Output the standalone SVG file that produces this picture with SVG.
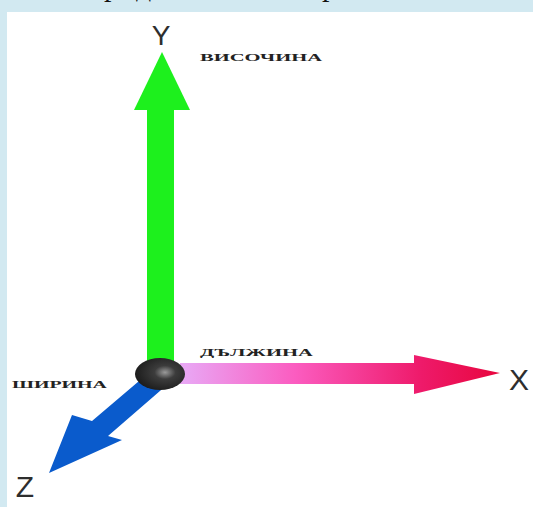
<svg xmlns="http://www.w3.org/2000/svg" width="533" height="507" viewBox="0 0 533 507">
<style>
.axis{font-family:"Liberation Sans",Arial,sans-serif;fill:#2e2e2e}
.lbl{font-family:"Liberation Serif","Times New Roman",serif;font-weight:bold;fill:#222;font-size:10px}
.top{font-family:"Liberation Serif","Times New Roman",serif;font-size:30px;fill:#111}
</style>
<defs>
<linearGradient id="gx" x1="185" y1="0" x2="500" y2="0" gradientUnits="userSpaceOnUse">
<stop offset="0" stop-color="#e9a6f4"/>
<stop offset="0.35" stop-color="#fb5cc0"/>
<stop offset="0.75" stop-color="#ee1a6a"/>
<stop offset="1" stop-color="#e8063e"/>
</linearGradient>
<radialGradient id="gb" cx="0.6" cy="0.45" r="0.6">
<stop offset="0" stop-color="#9a9a9a"/>
<stop offset="0.35" stop-color="#3c3c3c"/>
<stop offset="1" stop-color="#1c1c1c"/>
</radialGradient>
</defs>
<rect x="0" y="0" width="533" height="507" fill="#d2e9f1"/>
<rect x="7" y="12" width="526" height="495" fill="#ffffff"/>
<g id="title-fragment">
<text class="top" x="104" y="-4">р</text>
<text class="top" x="136" y="-4">д</text>
<text class="top" x="322" y="-4">р</text>
</g>
<g id="connectors">
<g id="axis-y">
<rect x="147" y="105" width="27" height="260" fill="#1df01d"/>
<polygon points="162,52 190,110 134,110" fill="#1df01d"/>
</g>
<g id="axis-x">
<rect x="180" y="363" width="236" height="21" fill="url(#gx)"/>
<polygon points="414,355 500,373 414,394" fill="url(#gx)"/>
</g>
<g id="axis-z">
<polygon points="152,370 168,384 108,436 122,440 49,473 72,415 92,421" fill="#0a5bcc"/>
</g>
</g>
<g id="origin">
<ellipse cx="160" cy="374" rx="25" ry="16" fill="url(#gb)"/>
</g>
<g id="label-y"><text class="axis" x="161" y="45" font-size="28" text-anchor="middle">Y</text></g>
<g id="label-x"><text class="axis" x="519" y="390" font-size="30" text-anchor="middle">X</text></g>
<g id="label-z"><text class="axis" x="25" y="497" font-size="30" text-anchor="middle">Z</text></g>
<g id="label-visochina"><text class="lbl" x="200" y="61" textLength="122" lengthAdjust="spacingAndGlyphs">ВИСОЧИНА</text></g>
<g id="label-dalzhina"><text class="lbl" x="200" y="356" textLength="113" lengthAdjust="spacingAndGlyphs">ДЪЛЖИНА</text></g>
<g id="label-shirina"><text class="lbl" x="12" y="388" textLength="95" lengthAdjust="spacingAndGlyphs">ШИРИНА</text></g>
</svg>
